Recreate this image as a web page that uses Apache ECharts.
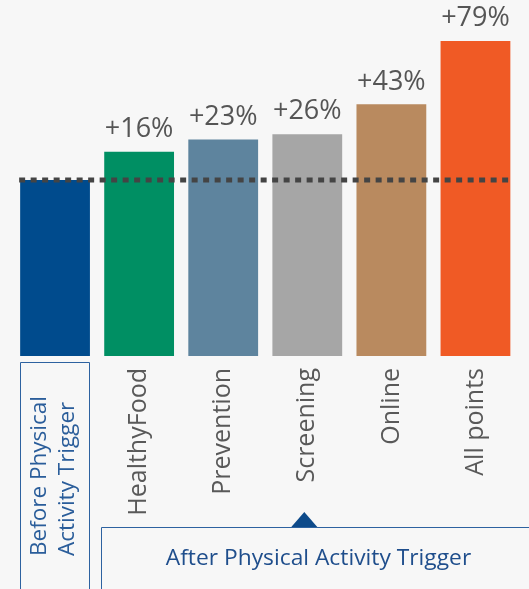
<!DOCTYPE html>
<html>
<head>
<meta charset="utf-8">
<script src="https://cdn.jsdelivr.net/npm/echarts@6/dist/echarts.min.js"></script>
<style>
  html, body { margin: 0; padding: 0; background: #f7f7f7; }
  #chart { width: 529px; height: 589px; }
</style>
</head>
<body>
<div id="chart"></div>
<script>
// Index of activity relative to the period before the trigger (= 100)
const categories = ['Before Physical\nActivity Trigger', 'HealthyFood', 'Prevention', 'Screening', 'Online', 'All points'];
const indexValues = [100, 116, 123, 126, 143, 179];
const baselineValue = 100;
const groupLabel = 'After Physical Activity Trigger';

const barColors = ['#004b8d', '#008f63', '#5e849e', '#a6a6a6', '#b98a5f', '#f05a25'];
const FONT = "'Open Sans', 'Noto Sans', sans-serif";
const BAR_RATIO = 0.83;

const chart = echarts.init(document.getElementById('chart'), null, { renderer: 'canvas' });

chart.setOption({
  backgroundColor: '#f7f7f7',
  animation: false,
  grid: { left: 13, right: 11.5, top: 4, bottom: 233 },
  xAxis: {
    type: 'category',
    data: categories,
    axisLine: { show: false },
    axisTick: { show: false },
    splitLine: { show: false },
    axisLabel: {
      interval: 0,
      rotate: 90,
      margin: 12,
      fontFamily: FONT,
      fontSize: 25,
      color: '#595959',
      // the first category is labelled inside its own framed box below
      formatter: (v, i) => (i === 0 ? '' : v)
    }
  },
  yAxis: { type: 'value', min: 0, max: 200, show: false },
  series: [{
    type: 'bar',
    barWidth: (BAR_RATIO * 100) + '%',
    data: indexValues.map((v, i) => ({ value: v, itemStyle: { color: barColors[i] } })),
    label: {
      show: true,
      position: 'top',
      distance: 9,
      fontFamily: FONT,
      fontSize: 27,
      color: '#555555',
      formatter: p => (p.dataIndex === 0 ? '' : '+' + (p.value - baselineValue) + '%')
    }
  }]
});

// Reference line, framed group labels and pointer, placed from the axis scales
const px = i => chart.convertToPixel({ gridIndex: 0 }, [i, baselineValue]);
const p0 = px(0), p1 = px(1), p3 = px(3), p5 = px(5);
const band = p1[0] - p0[0];
const half = band * BAR_RATIO / 2;
const yBase = p0[1];
const yZero = chart.convertToPixel({ gridIndex: 0 }, [0, 0])[1];

const boxTop = yZero + 6;
const groupTop = yZero + 171;

chart.setOption({
  graphic: [
    {
      type: 'line', z: 100,
      shape: { x1: p0[0] - half - 1, y1: yBase, x2: p5[0] + half, y2: yBase },
      style: { stroke: '#444444', lineWidth: 5, lineDash: [6, 5.5] }
    },
    {
      type: 'rect', z: 50,
      shape: { x: Math.round(p0[0] - half) + 0.5, y: Math.round(boxTop) + 0.5, width: Math.round(2 * half) - 1, height: 300 },
      style: { fill: 'none', stroke: '#2d62a0', lineWidth: 1 }
    },
    {
      type: 'text', z: 50,
      x: p0[0] - 1, y: boxTop + 194,
      rotation: Math.PI / 2,
      style: {
        text: categories[0],
        font: '22.5px ' + FONT,
        fill: '#2a5d9a',
        align: 'left',
        verticalAlign: 'middle',
        lineHeight: 28
      }
    },
    {
      type: 'polyline', z: 50,
      shape: { points: [[Math.round(p1[0] - half) - 2.5, 640], [Math.round(p1[0] - half) - 2.5, Math.round(groupTop) + 0.5], [560, Math.round(groupTop) + 0.5]] },
      style: { fill: 'none', stroke: '#2d62a0', lineWidth: 1 }
    },
    {
      type: 'polygon', z: 51,
      shape: { points: [[p3[0] - 16, groupTop], [p3[0] - 3, groupTop - 15], [p3[0] + 10, groupTop]] },
      style: { fill: '#0d4a8a' }
    },
    {
      type: 'text', z: 50,
      x: 318.5, y: groupTop + 32,
      scaleX: 1.085,
      style: {
        text: groupLabel,
        font: '21px ' + FONT,
        fill: '#1f4e8c',
        align: 'center',
        verticalAlign: 'middle'
      }
    }
  ]
});
</script>
</body>
</html>
